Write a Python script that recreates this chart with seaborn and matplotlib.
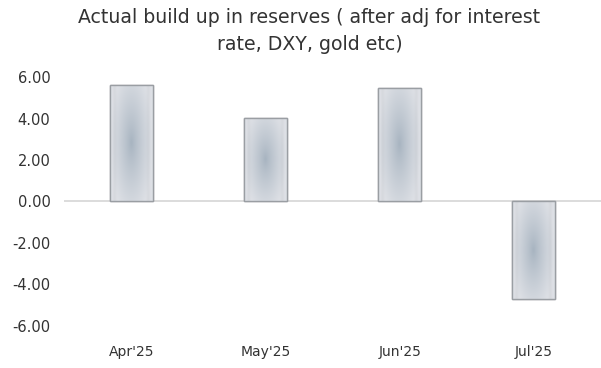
import numpy as np
import pandas as pd
import matplotlib
matplotlib.use("Agg")
import matplotlib.pyplot as plt
import seaborn as sns

categories = ["Apr'25", "May'25", "Jun'25", "Jul'25"]
values = [5.65, 4.05, 5.5, -4.7]
yticks = [-6, -4, -2, 0, 2, 4, 6]

sns.set_style("white")
plt.rcParams['font.family'] = ['DejaVu Sans']

df = pd.DataFrame({"month": categories, "value": values})

fig = plt.figure(figsize=(6.01, 3.68), dpi=100)
ax = fig.add_axes([0.107, 0.115, 0.893, 0.675])

sns.barplot(data=df, x="month", y="value", ax=ax, width=0.32,
            color="#d4d8dc", edgecolor="#9a9ea3", linewidth=1.0, saturation=1)

# gradient fill clipped to each bar
ny, nx = 80, 40
yy, xx = np.mgrid[-1:1:ny*1j, -1:1:nx*1j]
r = np.sqrt((xx * 1.0) ** 2 + (yy * 0.75) ** 2)
t = np.clip(r, 0, 1) ** 0.8
c_center = np.array([0.65, 0.70, 0.75])
c_edge = np.array([0.87, 0.88, 0.90])
img = c_center[None, None, :] * (1 - t[..., None]) + c_edge[None, None, :] * t[..., None]
band = np.exp(-((np.abs(xx) - 0.8) / 0.08) ** 2)[..., None] * 0.03
img = np.clip(img - band, 0, 1)
for p in ax.patches:
    x0, y0 = p.get_x(), p.get_y()
    w, h = p.get_width(), p.get_height()
    im = ax.imshow(img, extent=[x0, x0 + w, min(y0, y0 + h), max(y0, y0 + h)],
                   aspect="auto", zorder=p.get_zorder() + 0.1, interpolation="bilinear")
    im.set_clip_path(p)
    edge = plt.Rectangle((x0, y0), w, h, fill=False, edgecolor="#9a9ea3",
                         linewidth=1.0, zorder=p.get_zorder() + 0.2)
    ax.add_patch(edge)

ax.axhline(0, color="#dcdcdc", linewidth=1.4, zorder=0.5)
ax.set_xlim(-0.5, 3.5)
ax.set_ylim(-6, 6)
ax.set_yticks(yticks)
ax.set_yticklabels([f"{v:.2f}" for v in yticks], fontsize=10.5, color="#333333")
ax.set_xticks(range(len(categories)))
ax.set_xticklabels(categories, fontsize=10, color="#333333")
ax.tick_params(axis="y", length=0, pad=10)
ax.tick_params(axis="x", length=0, pad=14)
ax.set_xlabel("")
ax.set_ylabel("")
for s in ax.spines.values():
    s.set_visible(False)
ax.grid(False)

fig.suptitle("Actual build up in reserves ( after adj for interest\nrate, DXY, gold etc)",
             x=0.515, y=0.978, fontsize=13.6, color="#333333", linespacing=1.5)

fig.savefig("out.png", dpi=100)
